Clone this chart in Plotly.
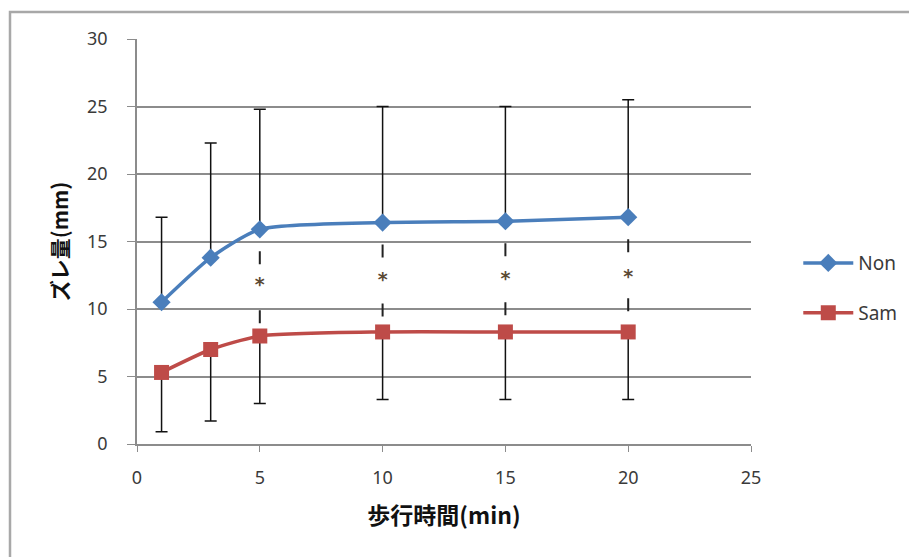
import plotly.graph_objects as go

minutes = [1, 3, 5, 10, 15, 20]
non_vals = [10.5, 13.8, 15.9, 16.4, 16.5, 16.8]
non_err_up = [6.3, 8.5, 8.9, 8.6, 8.5, 8.7]
sam_vals = [5.3, 7.0, 8.0, 8.3, 8.3, 8.3]
sam_err_down = [4.4, 5.3, 5.0, 5.0, 5.0, 5.0]
sig_minutes = [5, 10, 15, 20]
sig_label = "*"

x_ticks = [0, 5, 10, 15, 20, 25]
y_ticks = [0, 5, 10, 15, 20, 25, 30]

BLUE = "#4A7EBB"
RED = "#BE4B48"
GRID = "#8C8C8C"
TXT = "#3A3A3A"

fig = go.Figure()

# significance dashed connectors
for m in sig_minutes:
    i = minutes.index(m)
    fig.add_trace(go.Scatter(
        x=[m, m], y=[non_vals[i], sam_vals[i]], mode="lines",
        line=dict(color="#222222", width=2, dash="1px,21px,13px,46px,13px,200px"),
        showlegend=False, hoverinfo="skip"))
    fig.add_trace(go.Scatter(
        x=[m], y=[(non_vals[i] + sam_vals[i]) / 2 - 0.3], mode="text",
        text=["<b>" + sig_label + "</b>"],
        textfont=dict(size=19, color="#5b4a34", family="DejaVu Sans"),
        showlegend=False, hoverinfo="skip"))

fig.add_trace(go.Scatter(
    x=minutes, y=non_vals, name="Non", mode="lines+markers",
    line=dict(color=BLUE, width=3.5, shape="spline", smoothing=0.6),
    marker=dict(symbol="diamond", size=14, color=BLUE),
    error_y=dict(type="data", symmetric=False, array=non_err_up,
                 arrayminus=[0] * len(minutes), color="#111111", thickness=1.5, width=6),
    legendgroup="a"))
fig.add_trace(go.Scatter(
    x=minutes, y=sam_vals, name="Sam", mode="lines+markers",
    line=dict(color=RED, width=3.5, shape="spline", smoothing=0.6),
    marker=dict(symbol="square", size=15, color=RED),
    error_y=dict(type="data", symmetric=False, array=[0] * len(minutes),
                 arrayminus=sam_err_down, color="#111111", thickness=1.5, width=6),
    legendgroup="b"))

fig.update_layout(
    width=917, height=557,
    margin=dict(l=129, r=174, t=31, b=121),
    paper_bgcolor="white", plot_bgcolor="white",
    font=dict(family="Noto Sans", color=TXT, size=18),
    legend=dict(x=1.077, y=0.385, xanchor="left", yanchor="middle",
                font=dict(size=19, family="Noto Sans", color=TXT),
                tracegroupgap=22, itemwidth=50, bgcolor="rgba(0,0,0,0)"),
    xaxis=dict(range=[0, 25], tickvals=x_ticks, ticks="outside", ticklen=6,
               tickcolor=GRID, showgrid=False, showline=True, linecolor=GRID,
               linewidth=1.5, zeroline=False, tickfont=dict(size=18, color=TXT),
               ticklabelstandoff=11,
               title=dict(text="<b>歩行時間(min)</b>", standoff=20,
                          font=dict(family="Noto Sans CJK JP", size=23, color="#111111"))),
    yaxis=dict(range=[0, 30], tickvals=y_ticks, ticks="outside", ticklen=8,
               tickcolor=GRID, showgrid=True, gridcolor=GRID, gridwidth=1.5,
               showline=True, linecolor=GRID, linewidth=1.5, zeroline=False,
               tickfont=dict(size=18, color=TXT), ticklabelstandoff=16,
               title=dict(text="<b>ズレ量(mm)</b>", standoff=13,
                          font=dict(family="Noto Sans CJK JP", size=21, color="#111111"))),
)

fig.add_shape(type="rect", xref="paper", yref="paper",
              x0=(2 - 129) / 614, x1=1.5, y0=-0.5, y1=1 + (31 - 4) / 405,
              line=dict(color="#A8A8A8", width=2.5), fillcolor="rgba(0,0,0,0)", layer="below")

fig.write_html("out.html")
